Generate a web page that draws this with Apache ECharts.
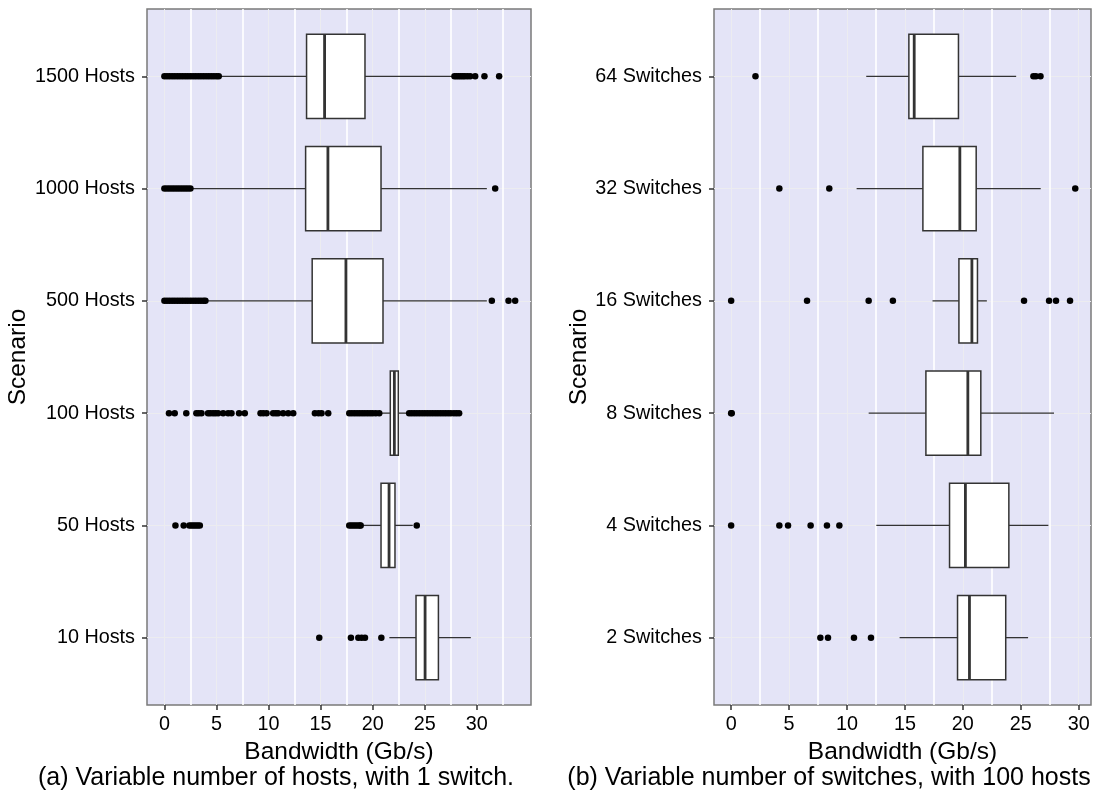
<!DOCTYPE html>
<html style="height: 100%">
<head>
  <meta charset="utf-8">
</head>
<body style="height: 100%; margin: 0">
  <div id="container" style="width: 1093px; height: 800px"></div>

  <script type="text/javascript" src="https://cdn.jsdelivr.net/npm/echarts@6.0.0/dist/echarts.min.js"></script>
  <script type="text/javascript">
    // categories, bottom to top (position 1..6 on the y scale)
    var hostCats = ['10 Hosts', '50 Hosts', '100 Hosts', '500 Hosts', '1000 Hosts', '1500 Hosts'];
    var switchCats = ['2 Switches', '4 Switches', '8 Switches', '16 Switches', '32 Switches', '64 Switches'];

    // [lower whisker, Q1, median, Q3, upper whisker]
    var hostBoxes = [
      [21.6, 24.16, 25.03, 26.31, 29.42],
      [19.1, 20.8, 21.57, 22.14, 23.85],
      [20.87, 21.69, 22.08, 22.46, 23.27],
      [4.05, 14.19, 17.43, 20.99, 30.96],
      [2.7, 13.56, 15.7, 20.8, 30.96],
      [5.35, 13.65, 15.38, 19.26, 27.6]
    ];
    var hostOutliers = [
      [14.87, 17.91, 18.62, 18.94, 19.26, 20.83],
      [1.06, 1.85, 2.4, 2.6, 2.8, 3.0, 3.2, 3.4, 17.75, 17.95, 18.15, 18.35, 18.55, 18.75, 18.85, 24.23],
      [0.44, 0.99, 2.1, 3.07, 3.3, 3.56, 4.19, 4.4, 4.67, 4.9, 5.16, 5.64, 6.12, 6.44, 7.17, 7.72,
       9.23, 9.5, 9.81, 10.44, 10.7, 10.92, 11.4, 11.89, 12.37, 14.45, 14.8, 15.09, 15.73,
       17.75, 18.0, 18.25, 18.5, 18.75, 19.0, 19.25, 19.5, 19.75, 20.0, 20.3, 20.63,
       23.5, 23.75, 24.0, 24.25, 24.5, 24.75, 25.0, 25.25, 25.5, 25.75, 26.0, 26.25, 26.5,
       26.75, 27.0, 27.25, 27.5, 27.8, 28.05, 28.3],
      [0, 0.25, 0.5, 0.75, 1, 1.25, 1.5, 1.75, 2, 2.25, 2.5, 2.75, 3, 3.25, 3.5, 3.75, 3.94,
       31.44, 33.04, 33.68],
      [0, 0.25, 0.5, 0.75, 1, 1.25, 1.5, 1.75, 2, 2.25, 2.5, 31.76],
      [0, 0.25, 0.5, 0.75, 1, 1.25, 1.5, 1.75, 2, 2.25, 2.5, 2.75, 3, 3.25, 3.5, 3.75, 4, 4.25,
       4.5, 4.75, 5, 5.22, 27.85, 28.05, 28.25, 28.45, 28.65, 28.85, 29.1, 29.36, 29.84, 30.73, 32.14]
    ];

    var switchBoxes = [
      [14.54, 19.54, 20.57, 23.7, 25.63],
      [12.53, 18.85, 20.22, 23.97, 27.38],
      [11.87, 16.81, 20.43, 21.55, 27.87],
      [17.38, 19.66, 20.78, 21.26, 22.07],
      [10.83, 16.55, 19.74, 21.15, 26.72],
      [11.66, 15.34, 15.8, 19.62, 24.6]
    ];
    var switchOutliers = [
      [7.7, 8.36, 10.6, 12.07],
      [0, 4.16, 4.91, 6.86, 8.27, 9.34],
      [0, 0.05],
      [0, 6.55, 11.87, 13.96, 25.28, 27.44, 28.04, 29.25],
      [4.16, 8.47, 29.7],
      [2.1, 26.09, 26.3, 26.7]
    ];

    var xTicks = [0, 5, 10, 15, 20, 25, 30];
    var yTicks = [1, 2, 3, 4, 5, 6];

    var dom = document.getElementById('container');
    var myChart = echarts.init(dom);
    var option;

    var boxHalf = 0.375;
    var edge = '#333333';

    function boxRows(boxes) {
      return boxes.map(function (b, i) {
        return [i + 1].concat(b);
      });
    }
    function outlierPoints(outs) {
      var pts = [];
      outs.forEach(function (list, i) {
        list.forEach(function (v) {
          pts.push([v, i + 1]);
        });
      });
      return pts;
    }

    function renderBox(params, api) {
      var y = api.value(0);
      var lo = api.coord([api.value(1), y]);
      var q1 = api.coord([api.value(2), y]);
      var md = api.coord([api.value(3), y]);
      var q3 = api.coord([api.value(4), y]);
      var hi = api.coord([api.value(5), y]);
      var h = api.size([0, boxHalf * 2])[1];
      return {
        type: 'group',
        children: [
          { type: 'line', shape: { x1: lo[0], y1: lo[1], x2: q1[0], y2: q1[1] },
            style: { stroke: edge, lineWidth: 1.3 } },
          { type: 'line', shape: { x1: q3[0], y1: q3[1], x2: hi[0], y2: hi[1] },
            style: { stroke: edge, lineWidth: 1.3 } },
          { type: 'rect', shape: { x: q1[0], y: q1[1] - h / 2, width: q3[0] - q1[0], height: h },
            style: { fill: '#ffffff', stroke: edge, lineWidth: 1.5 } },
          { type: 'line', shape: { x1: md[0], y1: md[1] - h / 2, x2: md[0], y2: md[1] + h / 2 },
            style: { stroke: edge, lineWidth: 2.8 } }
        ]
      };
    }

    function makeX(idx, min, max) {
      return {
        type: 'value',
        gridIndex: idx,
        min: min,
        max: max,
        minInterval: 5,
        maxInterval: 5,
        name: 'Bandwidth (Gb/s)',
        nameLocation: 'middle',
        nameGap: 33,
        nameTextStyle: { fontSize: 24.5, color: '#000' },
        axisLine: { show: false, onZero: false },
        axisTick: { show: true, length: 5, customValues: xTicks,
          lineStyle: { color: edge, width: 1.5 } },
        axisLabel: { customValues: xTicks, fontSize: 19.8, color: '#000', margin: 10 },
        splitLine: { show: true, lineStyle: { color: '#ececf0', width: 1 } },
        minorTick: { show: false, splitNumber: 2 },
        minorSplitLine: { show: true, lineStyle: { color: '#ffffff', width: 1.6 } }
      };
    }

    function makeY(idx, cats, gap) {
      return {
        type: 'value',
        gridIndex: idx,
        min: 0.4,
        max: 6.6,
        minInterval: 1,
        maxInterval: 1,
        name: 'Scenario',
        nameLocation: 'middle',
        nameGap: gap,
        nameTextStyle: { fontSize: 24.5, color: '#000' },
        axisLine: { show: false, onZero: false },
        axisTick: { show: true, length: 5, customValues: yTicks,
          lineStyle: { color: edge, width: 1.5 } },
        axisLabel: {
          customValues: yTicks, fontSize: 19.8, color: '#000', margin: 12,
          formatter: function (v) { return cats[Math.round(v) - 1]; }
        },
        splitLine: { show: true, lineStyle: { color: '#ececf0', width: 1 } }
      };
    }

    option = {
      animation: false,
      backgroundColor: '#ffffff',
      textStyle: { fontFamily: 'Liberation Sans, Arial, sans-serif' },
      title: [
        { text: '(a) Variable number of hosts, with 1 switch.', left: 271, top: 761, textAlign: 'center',
          textStyle: { fontSize: 25, fontWeight: 'normal', color: '#000' } },
        { text: '(b) Variable number of switches, with 100 hosts', left: 824, top: 761, textAlign: 'center',
          textStyle: { fontSize: 25, fontWeight: 'normal', color: '#000' } }
      ],
      grid: [
        { left: 147, top: 9, width: 384, height: 696, show: true,
          backgroundColor: '#e4e4f7', borderColor: '#7a7a7a', borderWidth: 1.5 },
        { left: 714, top: 9, width: 377, height: 696, show: true,
          backgroundColor: '#e4e4f7', borderColor: '#7a7a7a', borderWidth: 1.5 }
      ],
      xAxis: [makeX(0, -1.67, 35.2), makeX(1, -1.48, 31.06)],
      yAxis: [makeY(0, hostCats, 112), makeY(1, switchCats, 122)],
      series: [
        { type: 'custom', xAxisIndex: 0, yAxisIndex: 0, renderItem: renderBox,
          encode: { x: [1, 2, 3, 4, 5], y: 0 }, data: boxRows(hostBoxes) },
        { type: 'scatter', xAxisIndex: 0, yAxisIndex: 0, symbolSize: 6.5,
          itemStyle: { color: '#000', opacity: 1 }, data: outlierPoints(hostOutliers) },
        { type: 'custom', xAxisIndex: 1, yAxisIndex: 1, renderItem: renderBox,
          encode: { x: [1, 2, 3, 4, 5], y: 0 }, data: boxRows(switchBoxes) },
        { type: 'scatter', xAxisIndex: 1, yAxisIndex: 1, symbolSize: 6.5,
          itemStyle: { color: '#000', opacity: 1 }, data: outlierPoints(switchOutliers) }
      ]
    };

    if (option && typeof option === 'object') {
      myChart.setOption(option);
    }
  </script>
</body>
</html>
